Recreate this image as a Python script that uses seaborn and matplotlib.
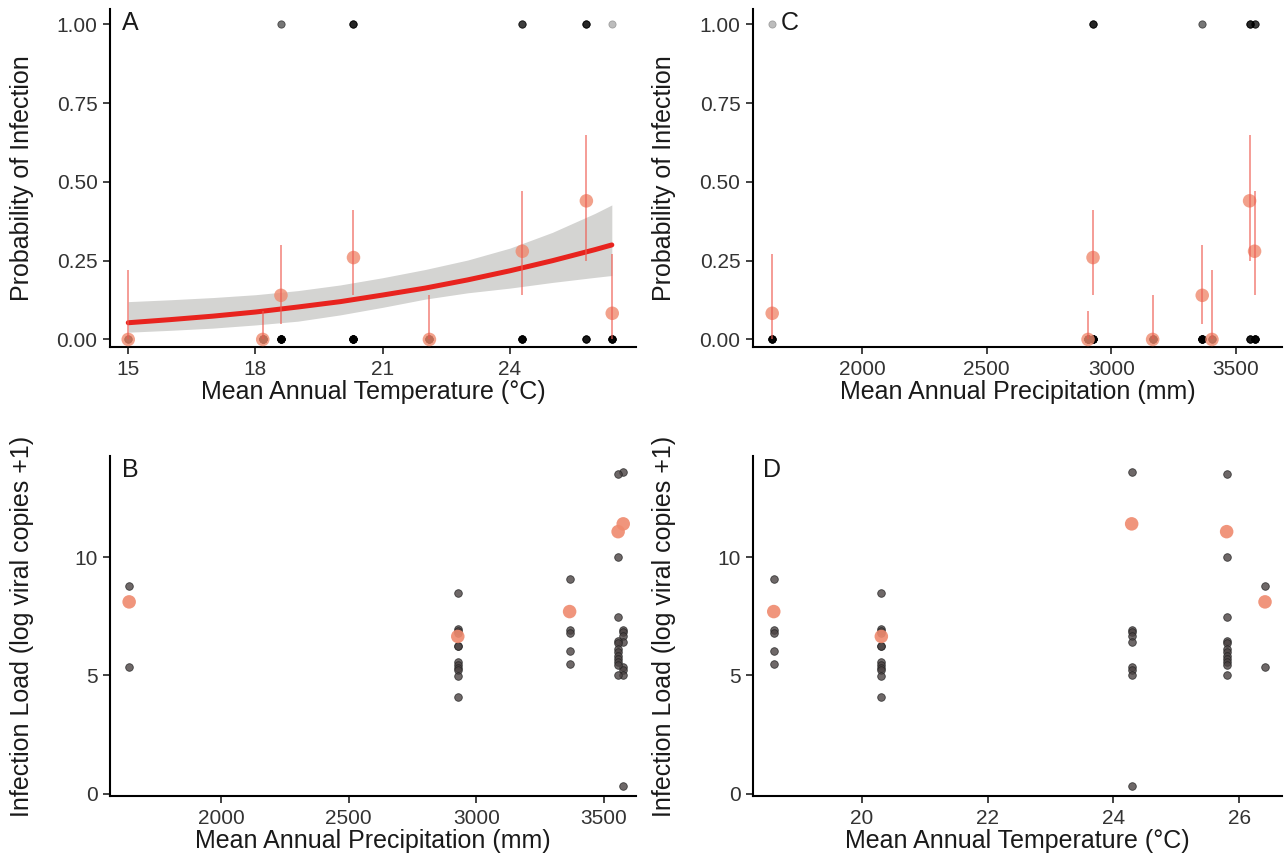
import numpy as np
import pandas as pd
import matplotlib
matplotlib.use("Agg")
import matplotlib.pyplot as plt
import seaborn as sns

# ---------------- data ----------------
# sites (temperature, precipitation)
site_temp = [15.0, 18.17, 18.6, 20.31, 22.1, 24.29, 25.8, 26.41]
site_precip = [3404, 2907, 3365, 2927, 3166, 3575, 3555, 1640]
n_pos = [0, 0, 5, 12, 0, 9, 12, 2]
n_neg = [15, 39, 31, 34, 25, 23, 15, 22]
prop_mean = [0.0, 0.0, 0.14, 0.26, 0.0, 0.28, 0.44, 0.083]
prop_lo = [0.0, 0.0, 0.05, 0.14, 0.0, 0.14, 0.25, 0.0]
prop_hi = [0.22, 0.09, 0.30, 0.41, 0.14, 0.47, 0.65, 0.27]

# fitted logistic curve (panel A)
fit_temp = [15, 16, 17, 18, 19, 20, 21, 22, 23, 24, 25, 26, 26.4]
fit_prob = [0.053, 0.063, 0.074, 0.087, 0.103, 0.120, 0.141, 0.163, 0.189, 0.218, 0.250, 0.285, 0.300]
fit_upper = [0.120, 0.126, 0.133, 0.142, 0.155, 0.173, 0.196, 0.222, 0.252, 0.290, 0.340, 0.400, 0.427]
fit_lower = [0.023, 0.029, 0.036, 0.046, 0.058, 0.078, 0.102, 0.128, 0.148, 0.163, 0.181, 0.197, 0.203]

# infection loads of positive samples per infected site
load_s1 = [9.07, 6.90, 6.79, 6.03, 5.48]                      # 18.6 C / 3365 mm
load_s2 = [8.50, 6.96, 6.86, 6.79, 6.23, 6.23, 5.55, 5.42, 5.31, 5.21, 4.96, 4.07]  # 20.3 / 2927
load_s3 = [13.60, 6.93, 6.82, 6.65, 6.41, 5.35, 5.24, 5.03, 0.31]  # 24.3 / 3575
load_s4 = [13.53, 10.01, 7.46, 6.46, 6.37, 6.11, 5.97, 5.83, 5.69, 5.55, 5.42, 5.00]  # 25.8 / 3555
load_s5 = [8.79, 5.35]                                        # 26.4 / 1640
load_temp = [18.6, 20.31, 24.29, 25.8, 26.41]
load_precip = [3365, 2927, 3575, 3555, 1640]
load_mean = [7.70, 6.65, 11.41, 11.08, 8.11]

# ---------------- tables ----------------
status = pd.DataFrame({
    "temp": np.concatenate([np.repeat(site_temp, n_neg), np.repeat(site_temp, n_pos)]),
    "precip": np.concatenate([np.repeat(site_precip, n_neg), np.repeat(site_precip, n_pos)]),
    "infected": np.concatenate([np.zeros(sum(n_neg)), np.ones(sum(n_pos))]),
})
sites = pd.DataFrame({"temp": site_temp, "precip": site_precip, "mean": prop_mean,
                      "lo": prop_lo, "hi": prop_hi})
fit = pd.DataFrame({"temp": fit_temp, "prob": fit_prob, "up": fit_upper, "lw": fit_lower})
loads_all = [load_s1, load_s2, load_s3, load_s4, load_s5]
loads = pd.DataFrame({
    "temp": np.concatenate([[t] * len(l) for t, l in zip(load_temp, loads_all)]),
    "precip": np.concatenate([[p] * len(l) for p, l in zip(load_precip, loads_all)]),
    "load": np.concatenate(loads_all),
})
lmeans = pd.DataFrame({"temp": load_temp, "precip": load_precip, "mean": load_mean})

# ---------------- style ----------------
sns.set_theme(style="ticks")
plt.rcParams["font.family"] = ["Liberation Sans", "DejaVu Sans"]
plt.rcParams.update({
    "axes.linewidth": 1.5,
    "xtick.major.width": 1.2, "ytick.major.width": 1.2,
    "xtick.major.size": 5, "ytick.major.size": 5,
    "xtick.labelsize": 15, "ytick.labelsize": 15,
    "xtick.color": "#222222", "ytick.color": "#222222",
    "xtick.labelcolor": "#333333", "ytick.labelcolor": "#333333",
    "axes.edgecolor": "black",
    "xtick.major.pad": 4, "ytick.major.pad": 4,
})

RED_PT = "#EF8A6E"
RED_BAR = "#EE5A50"
RED_LINE = "#E8231E"
BAND = "#D4D4D2"
TITLE_FS = 18
XPAD = 1

W, H = 1285, 863
fig = plt.figure(figsize=(W / 100, H / 100), dpi=100)


def box(x0, y0, x1, y1):
    return [x0 / W, 1 - y1 / H, (x1 - x0) / W, (y1 - y0) / H]


axA = fig.add_axes(box(110, 9, 636, 347))
axC = fig.add_axes(box(753, 9, 1282, 347))
axB = fig.add_axes(box(110, 456, 636, 796))
axD = fig.add_axes(box(753, 456, 1282, 796))


def prob_panel(ax, xcol, with_fit):
    if with_fit:
        ax.fill_between(fit["temp"], fit["lw"], fit["up"], color=BAND, lw=0, zorder=1)
        sns.lineplot(data=fit, x="temp", y="prob", ax=ax, color=RED_LINE, lw=3.6, zorder=2)
    sns.scatterplot(data=status, x=xcol, y="infected", ax=ax, color="black", s=28,
                    alpha=0.14, edgecolor="black", linewidth=0.5, zorder=3)
    sns.scatterplot(data=sites, x=xcol, y="mean", ax=ax, color=RED_PT, s=95,
                    alpha=0.8, edgecolor="none", zorder=4)
    ax.vlines(sites[xcol], sites["lo"], sites["hi"], color=RED_BAR, lw=1.2, alpha=0.7, zorder=5)
    ax.set_ylim(-0.024, 1.049)
    ax.set_yticks([0, 0.25, 0.5, 0.75, 1.0])
    ax.set_yticklabels(["0.00", "0.25", "0.50", "0.75", "1.00"])
    ax.set_ylabel("Probability of Infection", fontsize=TITLE_FS, color="#1a1a1a")


def load_panel(ax, xcol):
    sns.scatterplot(data=loads, x=xcol, y="load", ax=ax, color="#4a4242", s=30,
                    alpha=0.8, edgecolor="#222222", linewidth=0.6, zorder=3)
    sns.scatterplot(data=lmeans, x=xcol, y="mean", ax=ax, color=RED_PT, s=95,
                    alpha=0.9, edgecolor="none", zorder=4)
    ax.set_ylim(-0.1, 14.28)
    ax.set_yticks([0, 5, 10])
    ax.set_ylabel("Infection Load (log viral copies +1)", fontsize=TITLE_FS, color="#1a1a1a")


prob_panel(axA, "temp", True)
axA.set_xlim(14.57, 26.97)
axA.set_xticks([15, 18, 21, 24])
axA.set_xlabel("Mean Annual Temperature (°C)", fontsize=TITLE_FS, color="#1a1a1a", labelpad=XPAD)

prob_panel(axC, "precip", False)
axC.set_xlim(1563, 3685)
axC.set_xticks([2000, 2500, 3000, 3500])
axC.set_xlabel("Mean Annual Precipitation (mm)", fontsize=TITLE_FS, color="#1a1a1a", labelpad=XPAD)

load_panel(axB, "precip")
axB.set_xlim(1565, 3625)
axB.set_xticks([2000, 2500, 3000, 3500])
axB.set_xlabel("Mean Annual Precipitation (mm)", fontsize=TITLE_FS, color="#1a1a1a", labelpad=XPAD)

load_panel(axD, "temp")
axD.set_xlim(18.27, 26.68)
axD.set_xticks([20, 22, 24, 26])
axD.set_xlabel("Mean Annual Temperature (°C)", fontsize=TITLE_FS, color="#1a1a1a", labelpad=XPAD)

for ax, letter, xo in [(axA, "A", 0.022), (axC, "C", 0.053), (axB, "B", 0.022), (axD, "D", 0.019)]:
    sns.despine(ax=ax)
    ax.yaxis.set_label_coords(-0.145, 0.5)
    ax.text(xo, 0.995, letter, transform=ax.transAxes, ha="left", va="top",
            fontsize=18, color="#1a1a1a")

fig.savefig("out.png", dpi=100)
